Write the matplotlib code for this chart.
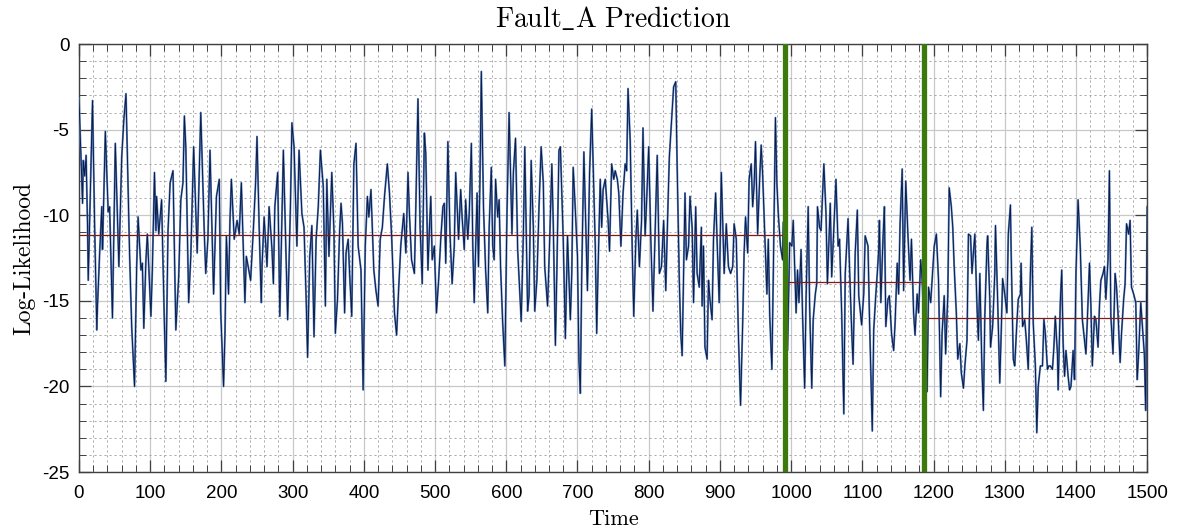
import numpy as np
import matplotlib
matplotlib.use("Agg")
import matplotlib.pyplot as plt
from matplotlib.ticker import MultipleLocator

# Log-likelihood readings (peaks / troughs)
time = [
    0, 5, 6, 8, 10, 12, 13, 15, 19, 22,
    25, 26, 29, 32, 33, 37, 41, 43, 47, 51,
    56, 60, 63, 66, 71, 74, 78, 81, 83, 87,
    89, 91, 94, 96, 101, 103, 106, 108, 109, 112,
    116, 120, 122, 125, 128, 132, 136, 140, 143, 146,
    148, 150, 154, 157, 161, 166, 171, 176, 178, 181,
    184, 189, 193, 197, 199, 203, 205, 207, 210, 212,
    214, 218, 222, 225, 228, 233, 235, 241, 245, 248,
    250,
    253, 256, 257, 260, 264, 267, 271, 273, 275, 279,
    282, 287, 293, 297, 299, 302, 306, 309, 313, 316,
    319, 321, 324, 327, 330, 333, 336, 339, 343, 346,
    348, 351, 355, 358, 360, 363, 366, 368, 370, 373,
    375, 378, 380, 383, 386, 389, 392, 396, 399, 402,
    405, 407, 410, 414, 417, 420, 423, 426, 429, 433,
    436, 439, 443, 446, 449, 452, 456, 459, 462, 464,
    467, 471, 473, 476, 479, 482, 485, 487, 490, 492,
    494, 496, 499,
    502, 505, 508, 511, 513, 515, 518, 521, 524, 527,
    529, 533, 536, 538, 541, 543, 546, 548, 551, 553,
    555, 559, 561, 563, 565, 568, 571, 574, 576, 579,
    581, 583, 585, 588, 590, 592, 595, 598, 601, 604,
    608, 610, 613, 616, 621, 624, 626, 630, 632, 635,
    638, 640, 643, 646, 649, 652, 654, 658, 661, 664,
    666, 669, 671, 674, 676, 680, 683, 686, 690, 692,
    694, 697, 700, 702, 704, 706, 709, 712, 714, 717,
    720, 723, 725, 727, 729, 732, 734, 736, 739, 743,
    745, 748, 751,
    753, 756, 758, 761, 764, 767, 769, 771, 774, 777,
    779, 782, 784, 787, 790, 792, 795, 797, 800, 803,
    806, 809, 812, 815, 818, 821, 824, 827, 829, 832,
    835, 838, 840, 843, 845, 847, 849, 851, 853, 856,
    858, 861, 863, 866, 868, 871, 874, 875, 877, 879,
    882, 884, 886, 889, 891, 894, 896, 899, 902, 904,
    906, 909, 912, 915, 918, 920, 923, 926, 929, 932,
    934, 936, 939, 941, 944, 946, 948, 950, 953, 956,
    958, 960, 963, 966, 968, 970, 973, 975, 978, 980,
    982, 985, 988, 989, 995, 998, 1001, 1003,
    1007, 1009, 1011, 1014, 1016, 1019, 1021, 1024, 1026, 1029,
    1031, 1034, 1036, 1037, 1040, 1042, 1044, 1046, 1049, 1051,
    1055, 1057, 1060, 1063, 1066, 1068, 1071, 1074, 1076, 1080,
    1082, 1085, 1087, 1090, 1093, 1095, 1099, 1102, 1104, 1108,
    1110, 1114, 1116, 1119, 1121, 1123, 1124, 1126, 1129, 1131,
    1133, 1136, 1138, 1141, 1144, 1146, 1149, 1151, 1153, 1156,
    1158, 1161, 1164, 1167, 1169, 1172, 1174, 1177, 1179, 1182,
    1184, 1191, 1193, 1196, 1198, 1201, 1204, 1207, 1210, 1212,
    1215, 1217, 1220, 1222, 1225, 1227, 1229, 1232, 1234, 1237,
    1239, 1242, 1244, 1247, 1249,
    1252, 1254, 1256, 1258, 1261, 1263, 1265, 1268, 1270, 1272,
    1275, 1276, 1279, 1280, 1283, 1286, 1287, 1290, 1293, 1295,
    1297, 1300, 1303, 1305, 1308, 1309, 1312, 1314, 1317, 1319,
    1322, 1323, 1325, 1328, 1330, 1333, 1336, 1338, 1340, 1343,
    1345, 1347, 1350, 1353, 1355, 1357, 1360, 1362, 1364, 1367,
    1369, 1371, 1374, 1375, 1378, 1380, 1382, 1384, 1386, 1389,
    1391, 1393, 1396, 1398, 1400, 1403, 1406, 1409, 1411, 1414,
    1416, 1419, 1421, 1423, 1426, 1428, 1431, 1433, 1435, 1438,
    1440, 1442, 1445, 1447, 1449, 1452, 1455, 1457, 1459, 1462,
    1464, 1467, 1469, 1471, 1474, 1476, 1478, 1481, 1484, 1486,
    1488, 1491, 1494, 1496, 1498, 1500,
]
loglik = [
    -3.2, -9.3, -6.8, -7.7, -6.5, -10.6, -13.8, -10.3, -3.3, -10.7,
    -16.7, -15.3, -12.2, -9.5, -12.0, -5.1, -9.8, -9.5, -16.0, -5.8,
    -13.0, -6.6, -4.4, -2.9, -12.2, -16.5, -20.0, -13.0, -10.1, -13.2,
    -12.8, -16.6, -12.6, -11.1, -15.9, -13.2, -7.5, -10.9, -8.9, -11.1,
    -9.1, -16.5, -19.7, -10.9, -8.1, -7.4, -16.7, -13.6, -9.1, -8.1,
    -4.2, -6.0, -15.1, -12.4, -6.0, -12.2, -4.0, -11.1, -13.4, -11.4,
    -6.2, -14.6, -8.9, -7.9, -15.6, -20.0, -16.9, -11.2, -14.6, -10.3,
    -7.9, -11.4, -10.3, -11.1, -8.1, -15.1, -12.4, -13.8, -10.7, -8.1,
    -5.4,
    -10.7, -15.1, -13.0, -10.1, -13.0, -9.5, -12.0, -14.0, -9.5, -7.5,
    -15.9, -6.2, -16.1, -9.3, -4.6, -6.0, -11.8, -6.2, -9.9, -10.7,
    -14.9, -18.3, -12.4, -10.6, -17.1, -11.4, -9.5, -6.2, -8.3, -15.3,
    -7.9, -12.4, -7.5, -10.9, -16.9, -14.9, -10.9, -9.3, -10.5, -15.7,
    -12.2, -11.4, -13.4, -15.9, -7.0, -5.8, -11.8, -13.2, -20.2, -11.8,
    -8.9, -10.1, -8.5, -13.2, -14.4, -15.3, -11.4, -10.7, -8.9, -7.0,
    -8.7, -11.2, -15.7, -17.0, -14.2, -11.7, -9.9, -12.2, -7.5, -9.9,
    -12.6, -13.4, -9.5, -3.2, -10.7, -14.0, -5.2, -6.4, -13.2, -10.9,
    -8.9, -12.6, -11.8,
    -15.7, -13.8, -11.4, -9.5, -9.3, -12.8, -5.7, -11.1, -14.0, -11.8,
    -7.5, -11.4, -8.5, -10.1, -12.0, -9.1, -11.4, -9.9, -5.8, -11.8,
    -15.1, -8.7, -13.0, -8.1, -1.6, -9.5, -13.2, -15.7, -10.7, -7.2,
    -11.8, -12.6, -7.9, -10.1, -9.1, -13.0, -16.3, -18.8, -9.9, -4.0,
    -11.1, -7.5, -5.5, -12.0, -16.2, -11.1, -6.0, -15.6, -14.7, -6.8,
    -10.7, -15.6, -13.8, -9.5, -6.0, -8.1, -13.0, -15.3, -11.4, -7.0,
    -10.5, -17.6, -13.4, -6.2, -6.0, -11.4, -17.2, -11.2, -16.1, -13.4,
    -7.2, -9.7, -12.4, -18.4, -20.4, -13.4, -6.3, -11.1, -14.4, -7.5,
    -3.8, -8.5, -11.8, -16.9, -13.0, -7.9, -10.7, -8.5, -7.9, -10.3,
    -12.1, -7.0, -7.9,
    -7.4, -7.9, -8.7, -11.8, -8.7, -7.0, -7.4, -2.6, -5.6, -12.2,
    -15.9, -11.4, -9.7, -13.0, -10.3, -4.9, -11.2, -9.3, -6.0, -11.4,
    -15.6, -11.1, -6.5, -13.4, -13.0, -10.3, -14.4, -9.5, -6.6, -4.6,
    -2.5, -2.2, -7.2, -13.8, -16.9, -18.2, -13.4, -8.7, -12.6, -11.8,
    -8.9, -10.7, -15.1, -9.5, -13.4, -14.2, -10.7, -15.3, -11.8, -17.7,
    -18.4, -13.8, -14.9, -16.1, -11.4, -8.7, -11.4, -15.1, -7.5, -10.5,
    -13.4, -10.5, -13.0, -13.4, -13.0, -10.5, -11.4, -17.0, -21.1, -16.3,
    -12.2, -10.1, -12.2, -7.9, -7.0, -9.5, -8.3, -5.7, -11.1, -7.7,
    -5.9, -7.6, -11.1, -14.6, -11.4, -15.9, -19.0, -13.4, -4.3, -8.1,
    -9.9, -11.8, -12.6, -10.4, -17.9, -11.6, -11.8, -10.3,
    -15.7, -13.2, -15.1, -12.0, -15.7, -20.1, -14.9, -9.5, -15.3, -20.1,
    -16.1, -14.6, -14.0, -9.5, -10.7, -10.9, -8.9, -7.0, -9.9, -14.0,
    -9.3, -13.6, -10.7, -7.9, -11.8, -11.4, -15.7, -21.6, -13.4, -10.2,
    -13.0, -16.7, -18.7, -12.2, -9.7, -14.7, -16.4, -14.6, -11.2, -11.8,
    -15.9, -22.6, -16.7, -14.6, -13.4, -12.0, -10.3, -15.1, -11.4, -9.5,
    -16.5, -14.9, -14.7, -16.9, -17.9, -16.3, -12.8, -14.6, -10.5, -7.3,
    -14.4, -8.0, -11.1, -13.8, -11.4, -15.7, -17.0, -14.6, -15.7, -12.6,
    -13.8, -20.3, -14.2, -15.1, -13.8, -11.8, -11.1, -13.8, -20.6, -16.9,
    -14.7, -18.1, -14.7, -8.4, -9.5, -10.7, -13.0, -15.7, -18.4, -17.5,
    -19.2, -20.1, -18.8, -17.3, -11.1,
    -11.2, -13.4, -12.2, -11.1, -15.3, -17.3, -13.4, -19.0, -21.4, -15.9,
    -11.8, -11.2, -14.9, -17.7, -16.5, -13.4, -10.6, -14.9, -19.8, -16.9,
    -13.7, -14.6, -15.7, -11.1, -9.4, -12.2, -18.4, -18.8, -16.3, -14.9,
    -14.6, -12.8, -16.5, -16.1, -17.1, -19.0, -13.4, -10.7, -16.3, -18.8,
    -22.7, -20.0, -18.8, -18.8, -16.1, -16.9, -19.0, -18.8, -18.8, -19.0,
    -17.7, -15.9, -18.1, -20.2, -15.1, -13.2, -17.5, -19.4, -17.9, -19.4,
    -20.2, -20.0, -17.9, -19.6, -13.4, -9.1, -11.8, -16.1, -16.9, -18.1,
    -16.1, -12.8, -15.3, -18.8, -15.9, -16.1, -17.7, -15.3, -13.8, -13.4,
    -13.0, -14.9, -12.6, -7.4, -15.9, -18.1, -13.4, -14.2, -15.7, -18.6,
    -16.9, -14.9, -14.0, -10.5, -11.1, -10.3, -14.2, -14.6, -15.1, -19.6,
    -18.1, -15.1, -16.9, -18.1, -21.4, -9.5,
]

# change points (green) and segment means (red)
change_points = [992, 1186]
seg_start = [0, 992, 1186]
seg_end = [992, 1186, 1500]
seg_mean = [-11.15, -13.9, -16.0]

plt.rcParams["mathtext.fontset"] = "cm"
plt.rcParams["axes.unicode_minus"] = False
plt.rcParams["font.family"] = ["Liberation Sans", "DejaVu Sans"]

fig = plt.figure(figsize=(11.79, 5.31), dpi=100)
ax = fig.add_axes([0.067, 0.111, 0.906, 0.806])

ax.plot(time, loglik, color="#5f86c4", lw=1.4, zorder=3)
ax.plot(time, loglik, color="#0b1c48", lw=0.7, zorder=4)

for s, e, m in zip(seg_start, seg_end, seg_mean):
    ax.plot([s, e], [m, m], color="#7d1c1c", lw=0.9, zorder=5)

for cp in change_points:
    ax.axvline(cp, color="#3d7a0e", lw=3.8, zorder=6)

ax.set_xlim(0, 1500)
ax.set_ylim(-25, 0)
ax.xaxis.set_major_locator(MultipleLocator(100))
ax.xaxis.set_minor_locator(MultipleLocator(20))
ax.yaxis.set_major_locator(MultipleLocator(5))
ax.yaxis.set_minor_locator(MultipleLocator(1))

ax.grid(which="major", color="#c8c8c8", lw=0.9, ls="-")
ax.grid(which="minor", color="#9a9a9a", lw=0.6, ls=(0, (2.5, 3.5)))
ax.set_axisbelow(True)

ax.tick_params(which="both", direction="in", top=True, right=True,
               color="#404040", labelsize=13.5)
ax.tick_params(axis="x", pad=9)
ax.tick_params(axis="y", pad=7)
ax.tick_params(which="major", length=8.5, width=0.9)
ax.tick_params(which="minor", length=5, width=0.7)
for sp in ax.spines.values():
    sp.set_color("#404040")
    sp.set_linewidth(1.0)

ax.set_title(r"$\mathrm{Fault\_A\ Prediction}$", fontsize=20, pad=12)
ax.set_xlabel("Time", fontfamily="cmr10", fontsize=16, labelpad=6)
ax.set_ylabel("Log-Likelihood", fontfamily="cmr10", fontsize=17, labelpad=5)

fig.savefig("out.png", dpi=100)
